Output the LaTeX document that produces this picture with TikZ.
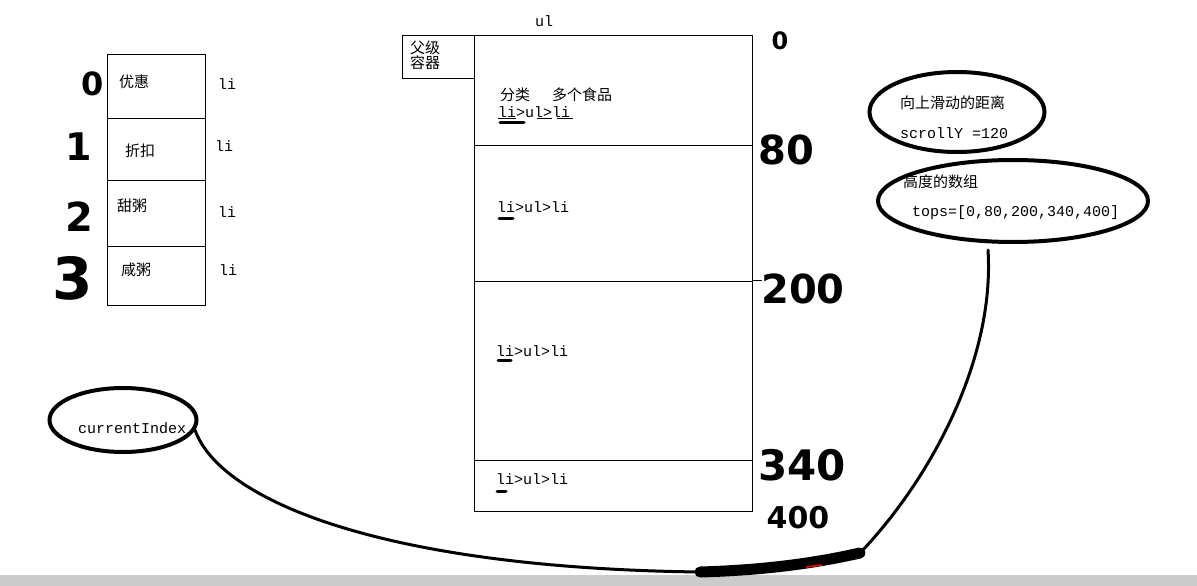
\documentclass[tikz,border=0pt]{standalone}
\usepackage{fontspec}
\setmainfont{Liberation Mono}
\newfontfamily\cjk{Noto Sans CJK SC}
\newfontfamily\hand{DejaVu Sans}
\usetikzlibrary{positioning,shapes.geometric}

\begin{document}
\begin{tikzpicture}[x=1pt,y=-1pt,
  cell/.style={rectangle,draw,line width=0.8pt,minimum width=98pt},
  sec/.style={rectangle,draw,line width=0.8pt,minimum width=278pt},
  txt/.style={inner sep=0pt,anchor=west,font=\fontsize{15}{15}\selectfont},
  zh/.style={inner sep=0pt,anchor=west,font=\cjk\fontsize{15}{15}\selectfont},
  numhand/.style={inner sep=0pt,font=\hand\bfseries\fontsize{#1}{#1}\selectfont},
  blob/.style={ellipse,draw,line width=4pt,inner sep=0pt},
  scrawl/.style={line width=3pt,line cap=round}]
\useasboundingbox (0,0) rectangle (1197,586);
\fill[gray!40] (0,575) rectangle (1197,586);

% left column
\node[cell,minimum height=64pt,name=cell0] at (156,86) {};
\node[cell,minimum height=62pt,name=cell1] at (156,149) {};
\node[cell,minimum height=66pt,name=cell2] at (156,213) {};
\node[cell,minimum height=59pt,name=cell3] at (156,275.5) {};
\node[zh,name=youhui] at (119,82) {优惠};
\node[zh,name=zhekou] at (125,151) {折扣};
\node[zh,name=tianzhou] at (117,206) {甜粥};
\node[zh,name=xianzhou] at (121,270) {咸粥};
\node[txt,name=li0] at (218,84) {li};
\node[txt,name=li1] at (215,146) {li};
\node[txt,name=li2] at (218,212) {li};
\node[txt,name=li3] at (219,270) {li};
\node[numhand=32,name=idx0] at (93,84) {0};
\node[numhand=38,name=idx1] at (79,147) {1};
\node[numhand=40,name=idx2] at (79,217) {2};
\node[numhand=58,name=idx3] at (73,278) {3};

% parent box and list
\node[rectangle,draw,line width=0.8pt,minimum width=72pt,minimum height=43pt,name=parent_box] at (438,56.5) {};
\node[inner sep=0pt,anchor=west,align=left,font=\cjk\fontsize{15}{15}\selectfont,name=parent] at (410,55.5) {父级\\容器};
\node[txt,anchor=center,name=ul] at (544,21) {ul};
\node[sec,minimum height=110pt,name=sec0] at (613,90) {};
\node[sec,minimum height=136pt,name=sec1] at (613,213) {};
\node[sec,minimum height=179pt,name=sec2] at (613,370.5) {};
\node[sec,minimum height=51pt,name=sec3] at (613,485.5) {};
\draw[line width=0.8pt] (sec2.north east) -- ++(10,0);
\node[zh,name=cat] at (500,95) {分类\hspace{22pt}多个食品};
\node[txt,name=path0] at (498,112) {li>ul>li};
\node[txt,name=path1] at (497,207) {li>ul>li};
\node[txt,name=path2] at (496,351) {li>ul>li};
\node[txt,name=path3] at (496,479) {li>ul>li};
\draw[line width=0.8pt] (498,118) -- (516,118) (537,118) -- (552,118) (557,118) -- (573,118);
\draw[line width=3pt,line cap=round] (500,122) -- (524,122);
\draw[line width=3pt,line cap=round] (499,218) -- (513,218);
\draw[line width=3pt,line cap=round] (498,360) -- (511,360);
\draw[line width=3pt,line cap=round] (497,491) -- (506,491);

% offsets
\node[numhand=24,name=top0] at (780,41) {0};
\node[numhand=40,name=top80] at (786,150) {80};
\node[numhand=40,name=top200] at (803,289) {200};
\node[numhand=42,name=top340] at (802,465) {340};
\node[numhand=30,name=top400] at (798,518) {400};

% notes
\node[blob,minimum width=175pt,minimum height=80pt,name=scroll_blob] at (957,112) {};
\node[zh,name=scroll_title] at (900,103) {向上滑动的距离};
\node[txt,name=scroll_val] at (900,133) {scrollY =120};
\node[blob,minimum width=270pt,minimum height=82pt,name=tops_blob] at (1013,201) {};
\node[zh,name=tops_title] at (903,182) {高度的数组};
\node[txt,name=tops_val] at (912,213) {tops=[0,80,200,340,400]};
\node[blob,minimum width=147pt,minimum height=64pt,name=current_blob] at (123,420) {};
\node[txt,name=current] at (78,428) {currentIndex};

% link
\coordinate (smear_l) at (700,572);
\coordinate (smear_r) at (860,553);
\coordinate (tops_end) at (988,250);
\draw[scrawl] (current_blob.-8) .. controls (220,500) and (380,568) .. (smear_l);
\draw[line width=11pt,line cap=round] (smear_l) .. controls (770,570) and (820,562) .. (smear_r);
\draw[scrawl] (smear_r) .. controls (930,480) and (995,360) .. (tops_end);
\draw[red,line width=1.5pt] (806,567) -- (822,565);
\end{tikzpicture}
\end{document}
